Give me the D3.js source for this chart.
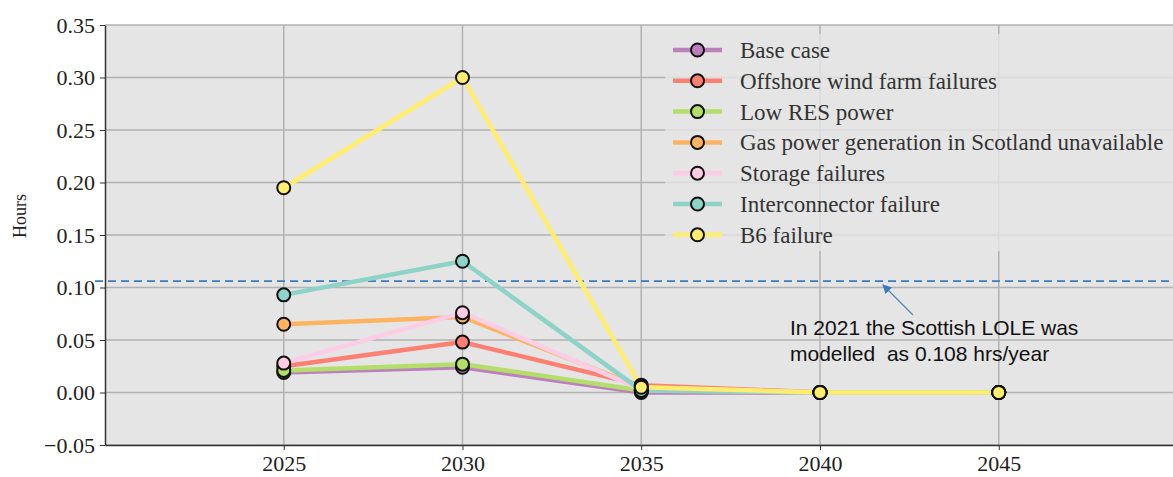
<!DOCTYPE html>
<html>
<head>
<meta charset="utf-8">
<script src="https://cdn.jsdelivr.net/npm/d3@7"></script>
<style>
  body { margin: 0; background: #fff; }
  svg { display: block; }
</style>
</head>
<body>
<div id="chart"></div>
<script>
// data
var years = [2025, 2030, 2035, 2040, 2045];
var seriesNames = ['Base case', 'Offshore wind farm failures', 'Low RES power',
  'Gas power generation in Scotland unavailable', 'Storage failures',
  'Interconnector failure', 'B6 failure'];
var seriesColors = ['#bc80bd', '#fb8072', '#b3de69', '#fdb462', '#fccde5', '#8dd3c7', '#ffed6f'];

var baseCase       = [0.019, 0.024, 0.000, 0.000, 0.000];
var offshoreWind   = [0.025, 0.048, 0.007, 0.000, 0.000];
var lowRes         = [0.021, 0.027, 0.002, 0.000, 0.000];
var gasUnavailable = [0.065, 0.072, 0.005, 0.000, 0.000];
var storage        = [0.028, 0.076, 0.003, 0.000, 0.000];
var interconnector = [0.093, 0.125, 0.002, 0.000, 0.000];
var b6Failure      = [0.195, 0.300, 0.005, 0.000, 0.000];

var allSeries = [baseCase, offshoreWind, lowRes, gasUnavailable, storage, interconnector, b6Failure];

var yTicks = [-0.05, 0.00, 0.05, 0.10, 0.15, 0.20, 0.25, 0.30, 0.35];
var lole = 0.106;
var annotationLines = ['In 2021 the Scottish LOLE was', 'modelled  as 0.108 hrs/year'];

// dimensions
var width = 1173, height = 477;
var margin = {top: 25, left: 105, bottom: 32};

var svg = d3.select('#chart').append('svg')
  .attr('width', width)
  .attr('height', height);

var x = d3.scaleLinear().domain([2020, 2050]).range([margin.left, margin.left + 30 * 35.75]);
var y = d3.scaleLinear().domain([-0.05, 0.35]).range([height - margin.bottom, margin.top]);

// plot background
svg.append('rect')
  .attr('x', x(2020)).attr('y', y(0.35))
  .attr('width', x(2050) - x(2020)).attr('height', y(-0.05) - y(0.35))
  .attr('fill', '#e5e5e5');

// grid
svg.append('g').selectAll('line')
  .data(yTicks)
  .enter().append('line')
  .attr('x1', x(2020)).attr('x2', x(2050))
  .attr('y1', function(d) { return y(d); }).attr('y2', function(d) { return y(d); })
  .attr('stroke', '#b2b2b2').attr('stroke-width', 1.5);

svg.append('g').selectAll('line')
  .data(years)
  .enter().append('line')
  .attr('x1', function(d) { return x(d); }).attr('x2', function(d) { return x(d); })
  .attr('y1', y(0.35)).attr('y2', y(-0.05))
  .attr('stroke', '#b2b2b2').attr('stroke-width', 1.5);

// axes
var yAxis = svg.append('g')
  .attr('transform', 'translate(' + margin.left + ',0)')
  .call(d3.axisLeft(y).tickValues(yTicks).tickFormat(d3.format('.2f')).tickSize(5).tickSizeOuter(0).tickPadding(5));

var xAxis = svg.append('g')
  .attr('transform', 'translate(0,' + y(-0.05) + ')')
  .call(d3.axisBottom(x).tickValues(years).tickFormat(d3.format('d')).tickSize(5).tickSizeOuter(0).tickPadding(5));

[yAxis, xAxis].forEach(function(a) {
  a.select('.domain').attr('stroke', '#333').attr('stroke-width', 1.5);
  a.selectAll('.tick line').attr('stroke', '#333').attr('stroke-width', 1);
  a.selectAll('.tick text')
    .attr('fill', '#222')
    .style('font-family', '"Liberation Serif", "Times New Roman", serif')
    .style('font-size', '22px');
});

svg.append('text')
  .attr('transform', 'translate(20,' + 216 + ') rotate(-90)')
  .attr('text-anchor', 'middle')
  .attr('dy', '0.35em')
  .style('font-family', '"Liberation Serif", "Times New Roman", serif')
  .style('font-size', '18px')
  .attr('fill', '#222')
  .text('Hours');

// LOLE reference line
svg.append('line')
  .attr('x1', margin.left - 10).attr('x2', width)
  .attr('y1', y(lole)).attr('y2', y(lole))
  .attr('stroke', '#3d78be').attr('stroke-width', 1.8)
  .attr('stroke-dasharray', '8,5');

// series lines and markers
var line = d3.line()
  .x(function(d, i) { return x(years[i]); })
  .y(function(d) { return y(d); });

allSeries.forEach(function(vals, s) {
  svg.append('path')
    .datum(vals)
    .attr('d', line)
    .attr('fill', 'none')
    .attr('stroke', seriesColors[s])
    .attr('stroke-width', 4.5)
    .attr('stroke-linejoin', 'round');
});

allSeries.forEach(function(vals, s) {
  svg.append('g').selectAll('circle')
    .data(vals)
    .enter().append('circle')
    .attr('cx', function(d, i) { return x(years[i]); })
    .attr('cy', function(d) { return y(d); })
    .attr('r', 6.5)
    .attr('fill', seriesColors[s])
    .attr('stroke', '#111')
    .attr('stroke-width', 2);
});

// annotation
var defs = svg.append('defs');
defs.append('marker')
  .attr('id', 'arrowhead')
  .attr('viewBox', '0 0 10 10')
  .attr('refX', 9).attr('refY', 5)
  .attr('markerWidth', 9).attr('markerHeight', 9)
  .attr('markerUnits', 'userSpaceOnUse')
  .attr('orient', 'auto')
  .append('path')
  .attr('d', 'M0,0 L10,5 L0,10 z')
  .attr('fill', '#3d78be');

svg.append('line')
  .attr('x1', 913).attr('y1', 315)
  .attr('x2', 883).attr('y2', 285)
  .attr('stroke', '#5a86b8').attr('stroke-width', 1.2)
  .attr('marker-end', 'url(#arrowhead)');

svg.append('g').selectAll('text')
  .data(annotationLines)
  .enter().append('text')
  .attr('x', 790)
  .attr('y', function(d, i) { return 335 + i * 26; })
  .attr('xml:space', 'preserve')
  .style('white-space', 'pre')
  .style('font-family', '"Liberation Sans", Arial, sans-serif')
  .style('font-size', '21px')
  .attr('fill', '#111')
  .text(function(d) { return d; });

// legend
var legend = svg.append('g');
legend.append('rect')
  .attr('x', 665).attr('y', 34)
  .attr('width', 520).attr('height', 217)
  .attr('fill', '#e5e5e5').attr('fill-opacity', 0.8);

var rows = legend.selectAll('g.row')
  .data(seriesNames)
  .enter().append('g')
  .attr('class', 'row')
  .attr('transform', function(d, i) { return 'translate(0,' + (50 + i * 30.8) + ')'; });

rows.append('line')
  .attr('x1', 673).attr('x2', 722)
  .attr('stroke', function(d, i) { return seriesColors[i]; })
  .attr('stroke-width', 4.5);

rows.append('circle')
  .attr('cx', 697.5).attr('r', 6.5)
  .attr('fill', function(d, i) { return seriesColors[i]; })
  .attr('stroke', '#111').attr('stroke-width', 2);

rows.append('text')
  .attr('x', 740).attr('dy', '0.35em')
  .style('font-family', '"Liberation Serif", "Times New Roman", serif')
  .style('font-size', '23px')
  .attr('fill', '#333')
  .text(function(d) { return d; });
</script>
</body>
</html>
